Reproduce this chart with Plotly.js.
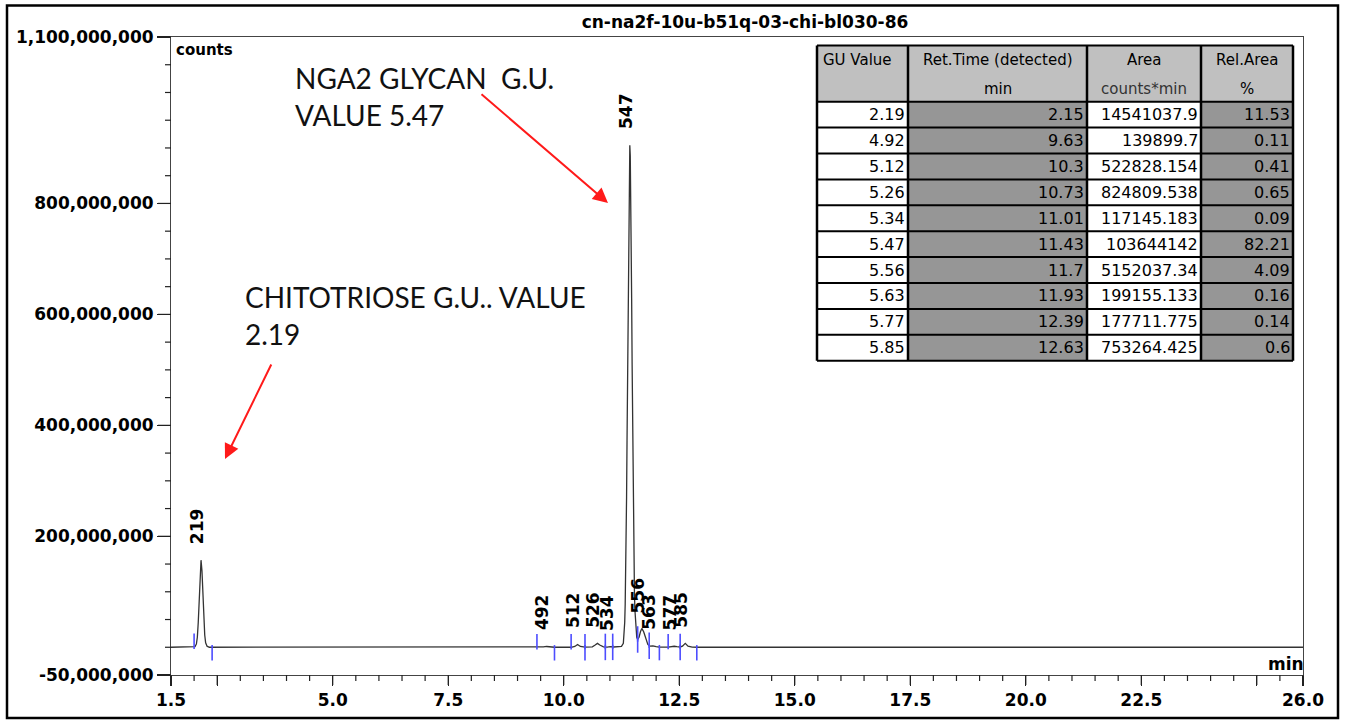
<!DOCTYPE html>
<html><head><meta charset="utf-8">
<script src="https://cdn.plot.ly/plotly-3.0.1.min.js"></script>
<style>html,body{margin:0;padding:0;background:#fff;} #chart{width:1346px;height:721px;}</style>
</head><body><div id="chart"></div>
<script>
// ---------- data ----------
const chartTitle = 'cn-na2f-10u-b51q-03-chi-bl030-86';
// chromatogram trace: retention time (min) and signal (millions of counts)
const timeMin = [1.50,1.95,2.02,2.05,2.07,2.09,2.11,2.13,2.15,2.17,2.19,2.21,2.23,2.25,2.28,2.33,
  9.42,9.56,9.63,9.70,9.80,10.16,10.24,10.30,10.36,10.46,10.62,10.68,10.73,10.78,10.86,10.94,11.01,11.08,
  11.20,11.25,11.29,11.31,11.32,11.33,11.34,11.35,11.36,11.37,11.38,11.39,11.40,11.41,11.42,11.43,
  11.44,11.45,11.46,11.47,11.48,11.49,11.50,11.51,11.52,11.53,11.54,11.56,11.58,11.60,11.63,11.66,11.69,
  11.73,11.78,11.82,11.86,11.93,12.00,12.07,12.26,12.33,12.39,12.45,12.52,12.57,12.63,12.69,12.78,12.90,26.0];
const signalM = [0,0,1,6,18,45,90,140,157,138,95,52,22,8,2,0,
  0,0.6,1.4,0.6,0,0,1.5,5,1.5,0.2,0.8,4,7,4,0.8,0.4,1.2,0.5,
  0.6,1.5,7,26,45,77,122,186,270,372,488,610,725,820,883,905,
  886,828,738,628,510,396,296,212,148,100,68,32,18,14,18,28,34,
  28,13,5,2,2.5,1,0.3,0.2,1,1.8,1,0.5,2,7,2,0.3,0,0];
// peak table
const guValue = [2.19,4.92,5.12,5.26,5.34,5.47,5.56,5.63,5.77,5.85];
const retTime = [2.15,9.63,10.3,10.73,11.01,11.43,11.7,11.93,12.39,12.63];
const areaText = ['14541037.9','139899.7','522828.154','824809.538','117145.183','103644142','5152037.34','199155.133','177711.775','753264.425'];
const relArea = [11.53,0.11,0.41,0.65,0.09,82.21,4.09,0.16,0.14,0.6];
const headerTop = ['GU Value','Ret.Time (detected)','Area','Rel.Area'];
const headerUnit = ['','min','counts*min','%'];
// integration marks (min)
const peakStart = [2.00,9.42,10.16,10.46,10.90,11.06,11.60,11.85,12.26,12.52];
const peakEnd   = [2.39,9.80,10.46,10.90,11.06,11.60,11.85,12.07,12.52,12.88];
// axis ticks
const xRange = [1.5, 26];
const yRange = [-5e7, 1.1e9];
const yTickVals = [-5e7,2e8,4e8,6e8,8e8,1.1e9];
const yTickText = ['-50,000,000','200,000,000','400,000,000','600,000,000','800,000,000','1,100,000,000'];
const xTickVals = [1.5,2.5,5,7.5,10,12.5,15,17.5,20,22.5,25,26];
const xTickText = ['1.5','','5.0','7.5','10.0','12.5','15.0','17.5','20.0','22.5','','26.0'];
const xMinorStep = 0.5, yMinorStep = 5e7;

// ---------- helpers ----------
const signal = signalM.map(v => v*1e6);
function interp(t){
  for(let i=1;i<timeMin.length;i++){
    if(t<=timeMin[i]){const f=(t-timeMin[i-1])/(timeMin[i]-timeMin[i-1]);return signal[i-1]+f*(signal[i]-signal[i-1]);}
  }
  return 0;
}
function steps(a,b,s){const out=[];for(let k=Math.ceil(a/s-1e-9);k*s<=b+1e-9;k++)out.push(+(k*s).toFixed(6));return out;}
const L=171,R=1303,T=37,B=675;
const px2x = p => (p-L)/(R-L);
const py2y = p => (B-p)/(B-T);
// axis value -> fraction of the linear axis range (paper coordinates)
const xFrac = v => (v-xRange[0])/(xRange[1]-xRange[0]);
const yFrac = v => (v-yRange[0])/(yRange[1]-yRange[0]);
const BOLD = {family:'DejaVu Sans', size:17, color:'#000', weight:'bold'};
const markOff = 1e7;
const BLUE = '#4d4dff';
const TICKC = '#222';

const traces = [
  {type:'scatter', mode:'lines', x:timeMin, y:signal, line:{color:'#333', width:1.3}, hoverinfo:'skip'},
  {type:'scatter', mode:'markers', x:peakStart, y:peakStart.map(t=>interp(t)+markOff),
   marker:{symbol:'line-ns-open', size:11, color:BLUE, line:{color:BLUE, width:1.6}}, hoverinfo:'skip'},
  {type:'scatter', mode:'markers', x:peakEnd, y:peakEnd.map(t=>interp(t)-markOff),
   marker:{symbol:'line-ns-open', size:11, color:BLUE, line:{color:BLUE, width:1.6}}, hoverinfo:'skip'}
];

const annotations = [
  {xref:'paper', yref:'paper', x:px2x(174), y:py2y(50), xanchor:'left', yanchor:'middle', text:'counts', showarrow:false,
   font:{family:'DejaVu Sans', size:15, color:'#000', weight:'bold'}},
  {xref:'paper', yref:'paper', x:px2x(1306), y:py2y(664), xanchor:'right', yanchor:'middle', text:'min', showarrow:false, font:BOLD},
  {xref:'paper', yref:'paper', x:px2x(293), y:py2y(78), xanchor:'left', yanchor:'middle', text:'NGA2 GLYCAN  G.U.', showarrow:false,
   font:{family:'Lato', size:28, color:'#111'}},
  {xref:'paper', yref:'paper', x:px2x(293), y:py2y(115), xanchor:'left', yanchor:'middle', text:'VALUE 5.47', showarrow:false,
   font:{family:'Lato', size:28, color:'#111'}},
  {xref:'paper', yref:'paper', x:px2x(243), y:py2y(297), xanchor:'left', yanchor:'middle', text:'CHITOTRIOSE G.U.. VALUE', showarrow:false,
   font:{family:'Lato', size:28, color:'#111'}},
  {xref:'paper', yref:'paper', x:px2x(243), y:py2y(334), xanchor:'left', yanchor:'middle', text:'2.19', showarrow:false,
   font:{family:'Lato', size:28, color:'#111'}},
  {xref:'paper', yref:'paper', x:px2x(608), y:py2y(203), ax:-128, ay:-110, text:'', showarrow:true,
   arrowcolor:'#ff1a1a', arrowwidth:2, arrowhead:2, arrowsize:1.5},
  {xref:'paper', yref:'paper', x:px2x(225), y:py2y(459), ax:47, ay:-96, text:'', showarrow:true,
   arrowcolor:'#ff1a1a', arrowwidth:2, arrowhead:2, arrowsize:1.5}
];
retTime.forEach((t,i)=>{
  annotations.push({x:t, y:interp(t), xref:'x', yref:'y', text:String(Math.round(guValue[i]*100)),
    textangle:-90, xanchor:'center', yanchor:'bottom', yshift:14, xshift:-4, showarrow:false,
    font:{family:'DejaVu Sans', size:17, color:'#000', weight:'bold'}});
});

const shapes = [];
// outside tick marks as plain paper-coordinate line shapes (minor 6 px, major 10/13 px)
const xTickLen = len => -len/(B-T);
const yTickLen = len => -len/(R-L);
steps(xRange[0], xRange[1], xMinorStep).forEach(v=>{
  const major = xTickVals.includes(v);
  shapes.push({type:'line', xref:'paper', yref:'paper', x0:xFrac(v), x1:xFrac(v), y0:0, y1:xTickLen(major?10:6),
    line:{color:TICKC, width:1.2}});
});
steps(yRange[0], yRange[1], yMinorStep).forEach(v=>{
  const major = yTickVals.includes(v);
  shapes.push({type:'line', xref:'paper', yref:'paper', y0:yFrac(v), y1:yFrac(v), x0:0, x1:yTickLen(major?13:6),
    line:{color:TICKC, width:1.2}});
});

// ---------- peak table built from shapes + annotations ----------
const colEdge = [817, 908, 1087, 1201, 1293];
const headTop = 45.5, headBot = 101.7, rowH = 25.9;
const nRows = guValue.length;
const tabBot = headBot + nRows*rowH;
const colFill = ['#ffffff','#969696','#ffffff','#969696'];
const cellText = [guValue.map(String), retTime.map(String), areaText, relArea.map(String)];
shapes.push({type:'rect', xref:'paper', yref:'paper', x0:px2x(colEdge[0]), x1:px2x(colEdge[4]), y0:py2y(headBot), y1:py2y(headTop),
  fillcolor:'#c0c0c0', line:{width:0}});
colFill.forEach((c,j)=>shapes.push({type:'rect', xref:'paper', yref:'paper', x0:px2x(colEdge[j]), x1:px2x(colEdge[j+1]),
  y0:py2y(tabBot), y1:py2y(headBot), fillcolor:c, line:{width:0}}));
const hLines = [headTop, headBot];
for(let i=1;i<=nRows;i++) hLines.push(headBot+i*rowH);
hLines.forEach(y=>shapes.push({type:'line', xref:'paper', yref:'paper', x0:px2x(colEdge[0]), x1:px2x(colEdge[4]),
  y0:py2y(y), y1:py2y(y), line:{color:'#000', width:2}}));
colEdge.forEach(x=>shapes.push({type:'line', xref:'paper', yref:'paper', x0:px2x(x), x1:px2x(x),
  y0:py2y(tabBot), y1:py2y(headTop), line:{color:'#000', width:2.5}}));
const TF = {family:'DejaVu Sans', size:15, color:'#000'};
headerTop.forEach((h,j)=>{
  const left = j===0;
  annotations.push({xref:'paper', yref:'paper', x: left ? px2x(colEdge[0]+4) : px2x((colEdge[j]+colEdge[j+1])/2),
    xanchor: left ? 'left' : 'center', y:py2y(60), yanchor:'middle', text:h, showarrow:false, font:TF});
  if(headerUnit[j]) annotations.push({xref:'paper', yref:'paper', x:px2x((colEdge[j]+colEdge[j+1])/2), xanchor:'center',
    y:py2y(89), yanchor:'middle', text:headerUnit[j], showarrow:false,
    font:{family:'DejaVu Sans', size:15, color: j===2 ? '#333' : '#000'}});
});
cellText.forEach((col,j)=>col.forEach((v,i)=>{
  annotations.push({xref:'paper', yref:'paper', x:px2x(colEdge[j+1]-1), xanchor:'right',
    y:py2y(headBot+(i+0.5)*rowH), yanchor:'middle', text:v, showarrow:false,
    font:{family:'DejaVu Sans', size:16, color:'#000'}});
}));
// outer frame
shapes.push({type:'rect', xref:'paper', yref:'paper', x0:px2x(7), x1:px2x(1338), y0:py2y(718), y1:py2y(5.5),
  line:{color:'#000', width:2.5}, fillcolor:'rgba(0,0,0,0)'});

const layout = {
  width:1346, height:721, margin:{l:L, r:1346-R, t:T, b:721-B},
  paper_bgcolor:'#fff', plot_bgcolor:'#fff', showlegend:false, hovermode:false,
  title:{text:chartTitle, x:745/1346, xref:'container', y:1-22/721, yref:'container', yanchor:'middle', xanchor:'center',
    font:{family:'DejaVu Sans', size:17, color:'#000', weight:'bold'}},
  xaxis:{range:xRange, autorange:false, tickmode:'array', tickvals:xTickVals, ticktext:xTickText, ticks:'outside', ticklen:10, tickwidth:1.2,
    tickcolor:TICKC, showline:true, linecolor:'#444', linewidth:1, mirror:true, showgrid:false, zeroline:false, tickfont:BOLD},
  yaxis:{range:yRange, autorange:false, tickmode:'array', tickvals:yTickVals, ticktext:yTickText, ticks:'outside', ticklen:13, tickwidth:1.2,
    tickcolor:TICKC, showline:true, linecolor:'#444', linewidth:1, mirror:true, showgrid:false, zeroline:false, tickfont:BOLD},
  annotations: annotations,
  shapes: shapes
};
Plotly.newPlot('chart', traces, layout, {staticPlot:true, displayModeBar:false});
</script></body></html>
